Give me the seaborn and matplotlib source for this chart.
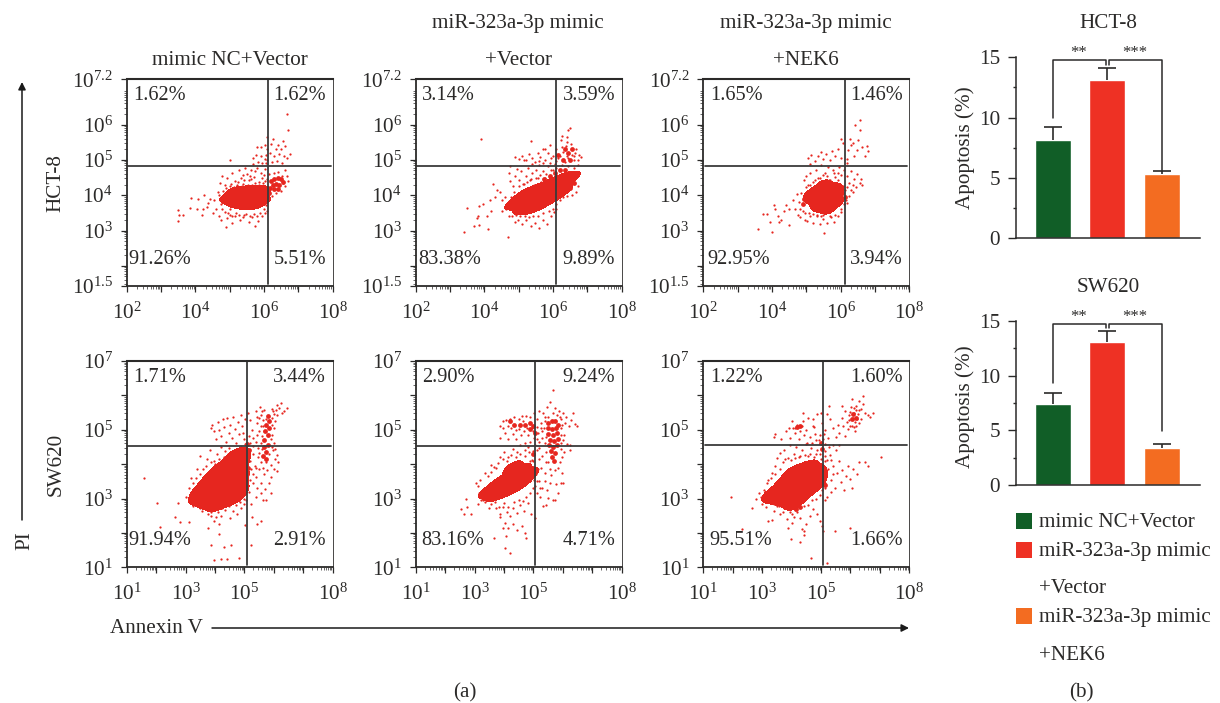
import numpy as np
import pandas as pd
import matplotlib
matplotlib.use('Agg')
import matplotlib.pyplot as plt
from matplotlib.colors import ListedColormap
from matplotlib.patches import FancyArrowPatch, Rectangle
from matplotlib.ticker import FixedLocator, FixedFormatter, NullFormatter
import seaborn as sns

# flow cytometry, log10(Annexin V), log10(PI)
# core = solid part of the cloud, mid = thick part, dots = single events
hct_nc_core = [(5.0,3.9),(5.2,3.8),(5.2,4.08),(5.45,3.75),(5.45,4.1),(5.7,3.75),(5.7,4.12),(5.9,3.88),(5.9,4.12)]
hct_nc_mid = [(6.2,4.4),(6.3,4.45),(6.4,4.5),(6.5,4.45),(6.25,4.28),(6.35,4.32),(6.45,4.3),(6.55,4.38),(6.18,4.2),(6.3,4.18),(6.42,4.18),(6.15,4.05),(6.05,3.95)]
hct_nc_dots = [(3.5,3.58),(3.5,3.27),(3.63,3.44),(3.53,3.44),(3.87,3.91),(3.84,3.65),(4.25,4.0),(4.09,3.9),(4.04,3.6),(4.18,3.44),
    (4.23,3.61),(4.33,3.68),(4.38,3.78),(4.52,3.5),(4.44,3.9),(4.6,3.62),(4.55,3.85),(4.68,3.42),(4.75,3.3),(4.88,3.1),(4.92,3.35),
    (5.06,3.2),(5.15,3.42),(5.3,3.3),(5.42,3.45),(5.55,3.25),(5.66,3.38),(5.75,3.12),(5.82,3.28),(5.95,3.42),(6.02,3.5),(5.0,3.45),
    (4.65,4.1),(4.72,4.35),(4.78,4.55),(4.85,4.3),(4.93,4.5),(5.0,4.25),(5.08,4.62),(5.15,4.4),(5.22,4.28),(5.28,4.72),(5.33,4.5),
    (5.38,4.33),(5.45,4.78),(5.5,4.6),(5.55,4.42),(5.62,4.7),(5.66,4.3),(5.72,4.52),(5.8,4.78),(5.85,4.38),(5.92,4.62),(5.98,4.35),
    (6.04,4.75),(5.02,5.0),(6.66,6.29),(6.71,5.85),(6.08,5.64),(6.27,5.58),(6.56,5.53),(6.42,5.42),(5.79,5.36),(5.9,5.35),(6.02,5.42),
    (6.08,5.3),(6.2,5.45),(6.35,5.3),(6.5,5.32),(6.62,5.4),(6.76,5.16),(6.68,5.05),(6.58,5.12),(6.45,5.18),(6.3,5.1),(6.18,5.2),
    (6.05,5.15),(5.92,5.1),(5.78,5.15),(5.68,5.05),(5.82,4.95),(5.95,4.9),(6.1,5.0),(6.22,4.95),(6.38,4.98),(6.52,4.9),(5.68,4.88),
    (6.6,4.7),(6.68,4.55),(6.7,4.4),(6.62,4.25),(6.5,4.12),(6.35,4.05),(6.22,3.98),(6.12,3.85),(6.15,4.6),(6.28,4.62),(6.42,4.66),
    (6.52,4.55),(6.15,4.12),(6.55,4.35),(6.05,3.72),(6.1,4.45),(4.75,3.75),(4.68,4.0),
    (4.72,3.85),(4.78,3.62),(4.8,4.12),(4.85,3.52),(4.9,4.2),(4.95,3.5),(5.05,4.32),(5.08,3.4),(5.12,4.22),(5.18,3.5),(5.25,4.38),(5.28,3.45),
    (5.35,4.25),(5.38,3.38),(5.42,4.42),(5.48,3.48),(5.52,4.28),(5.6,3.42),(5.62,4.45),(5.7,3.48),(5.75,4.35),(5.8,3.4),(5.85,4.28),(5.88,3.5),
    (5.95,4.22),(6.0,3.62),(6.02,4.4),(6.05,4.2),(5.0,3.6),(6.1,3.55),(5.6,4.55),(5.75,4.68),(5.95,4.5),(6.0,4.58),(5.4,4.58),(6.02,5.02),(6.05,4.92)]

hct_mi_core = [(4.95,3.8),(5.2,3.68),(5.45,3.68),(5.7,3.8),(5.2,4.02),(5.45,4.1),(5.7,4.18),(5.95,3.95),(5.95,4.3),(6.2,4.1),(6.2,4.42),(6.42,4.45)]
hct_mi_mid = [(6.55,4.55),(6.35,4.7),(6.2,4.72),(6.05,4.62),(5.9,4.55),(5.75,4.45),(6.6,4.35),(6.5,4.2),(6.35,4.15),(6.45,5.2),(6.3,5.0),(6.5,5.0),(6.15,5.15),(6.35,5.3),(6.55,5.3),(4.75,3.8),(4.8,3.65)]
hct_mi_dots = [(3.5,3.65),(3.4,2.95),(3.8,3.4),(3.84,3.15),(3.85,3.7),(3.95,3.75),(3.7,3.12),(3.78,3.35),(4.12,3.05),(4.07,3.42),
    (4.15,3.85),(4.2,3.55),(4.3,3.95),(4.38,4.15),(4.25,4.32),(4.45,4.1),(4.5,3.85),(4.52,3.55),(4.62,3.6),(4.7,2.82),(4.6,3.95),
    (4.8,3.4),(4.88,3.25),(4.72,3.42),(4.98,3.3),(5.1,3.18),(5.22,3.3),(5.35,3.12),(5.47,3.22),(5.58,3.08),(5.7,3.3),(5.82,3.18),
    (5.93,3.4),(6.02,3.52),(6.1,3.62),(3.9,5.58),(4.75,4.4),(4.72,4.62),(4.75,4.82),(4.82,4.25),(4.88,4.55),(4.95,4.75),(5.02,4.42),
    (5.08,4.68),(5.15,4.32),(5.2,4.55),(5.28,4.78),(5.33,4.42),(5.38,4.62),(5.45,4.3),(5.5,4.72),(5.55,4.5),(5.6,4.85),(5.65,4.38),
    (5.72,4.68),(5.78,4.48),(5.85,4.82),(5.92,4.42),(6.0,4.72),(6.05,4.88),(6.25,4.85),(6.45,4.82),(6.6,4.78),(6.72,4.85),(6.72,4.25),
    (6.68,4.1),(6.55,4.0),(6.4,3.98),(4.9,5.08),(5.0,5.02),(5.1,5.12),(5.2,5.0),(5.3,5.18),(5.38,5.05),(5.48,4.95),(5.55,5.2),(5.62,5.08),
    (5.7,5.3),(5.78,5.0),(5.85,5.2),(5.92,5.42),(6.0,5.12),(6.08,5.3),(6.15,5.05),(6.22,5.55),(6.3,5.22),(6.38,5.4),(6.45,5.05),(6.52,5.45),
    (6.6,5.12),(6.68,5.32),(6.75,5.15),(6.82,5.08),(6.72,5.0),(6.42,5.65),(6.25,5.68),(5.78,5.32),(5.35,5.52),(6.43,5.85),(6.48,5.9),(5.58,4.98),
    (4.78,3.95),(4.85,4.1),(4.92,3.45),(5.0,4.25),(5.05,3.42),(5.12,4.32),(5.18,3.4),(5.25,4.38),(5.3,3.38),(5.35,4.45),(5.42,3.4),(5.5,4.48),
    (5.55,3.42),(5.62,4.58),(5.7,3.5),(5.8,4.6),(5.88,3.55),(5.95,4.7),(6.0,3.62),(6.1,4.78),(6.1,3.75),(6.2,3.85),(6.3,3.95),(6.35,4.95),
    (5.15,5.0),(5.4,4.88),(5.7,4.9),(5.9,4.9),(6.1,4.98),(6.2,5.1),(6.4,5.1),(6.6,5.0),(5.95,5.05),(6.25,5.35),(6.4,5.5),(6.55,5.15),(6.65,5.2)]

hct_ne_core = [(5.15,3.95),(5.35,3.72),(5.35,4.08),(5.6,3.66),(5.6,4.02),(5.85,3.85),(5.85,4.15),(5.55,4.24)]
hct_ne_mid = [(6.05,4.05),(6.12,3.95),(4.92,3.9),(4.9,3.75),(5.95,4.3)]
hct_ne_dots = [(3.6,3.05),(3.75,3.47),(3.85,3.47),(4.0,2.95),(3.95,3.25),(4.05,3.72),(4.1,3.62),(4.18,3.4),(4.2,3.25),(4.27,3.3),
    (4.35,3.55),(4.42,3.72),(4.5,3.62),(4.5,3.15),(4.62,3.85),(4.68,3.6),(4.72,4.02),(4.75,3.45),(4.82,3.38),(4.9,3.55),(4.95,3.3),
    (5.02,3.28),(5.1,3.4),(5.2,3.22),(5.3,3.45),(5.4,3.18),(5.5,3.32),(5.52,2.92),(5.6,3.2),(5.72,3.38),(5.8,3.25),(5.92,3.42),(6.0,3.52),
    (4.92,4.42),(5.0,4.55),(5.05,4.3),(5.12,4.62),(5.2,4.38),(5.28,4.72),(5.35,4.48),(5.42,4.85),(5.5,4.35),(5.55,4.62),(5.62,4.8),
    (5.7,4.42),(5.78,4.7),(5.85,4.52),(5.95,4.8),(6.02,4.58),(6.1,4.72),(6.2,4.55),(6.3,4.68),(6.38,4.45),(6.48,4.6),(6.55,4.35),
    (6.62,4.28),(6.45,4.22),(6.35,4.08),(6.25,3.98),(6.15,3.85),(6.58,4.45),(5.05,5.05),(5.15,5.15),(5.25,4.98),(5.35,5.1),(5.42,5.22),
    (5.5,5.02),(5.58,5.18),(5.68,5.0),(5.75,5.25),(5.85,5.1),(5.92,5.32),(6.0,5.05),(6.08,5.48),(6.18,5.02),(6.22,5.28),(6.3,5.42),
    (6.38,5.12),(6.48,5.28),(6.52,5.55),(6.62,5.35),(6.7,5.1),(6.8,5.25),(6.78,5.38),(6.42,5.98),(6.55,5.85),(6.55,6.12),(6.28,5.6),
    (6.02,5.58),(6.35,5.48),(5.12,4.88),(6.18,4.9),
    (4.78,3.82),(4.82,3.6),(4.85,4.05),(4.95,3.5),(5.0,4.22),(5.08,3.5),(5.12,4.3),(5.2,3.48),(5.25,4.42),(5.32,3.42),(5.4,4.5),(5.42,3.4),(5.5,3.45),
    (5.65,4.42),(5.7,3.42),(5.75,4.32),(5.85,3.45),(5.92,4.42),(5.98,4.22),(6.02,3.62),(6.08,4.25),(6.1,3.75),(6.12,4.15),(6.2,4.22),(6.25,4.35),(6.3,4.15),
    (6.2,3.78),(6.35,4.3),(5.6,4.55),(5.82,4.62),(5.48,4.58),(5.92,4.62)]

sw_nc_core = [(3.4,3.1),(3.7,3.0),(4.0,2.9),(4.3,3.0),(4.6,3.1),(4.85,3.2),(3.7,3.4),(4.0,3.3),(4.3,3.4),(4.6,3.5),(4.85,3.6),(4.0,3.7),(4.3,3.8),(4.6,3.9),(4.85,4.0),(4.85,4.2),(4.55,4.12)]
sw_nc_mid = [(5.8,5.4),(5.85,5.25),(5.75,5.15),(5.85,5.05),(5.7,4.95),(5.8,4.85),(5.68,4.7),(5.8,4.55),(5.65,4.5),(5.75,4.35),(5.62,4.25),(5.72,4.15),(5.1,3.7),(5.12,3.9),(5.15,4.4),(5.1,4.6)]
sw_nc_dots = [(1.59,3.59),(2.02,2.86),(2.13,2.18),(2.65,2.45),(2.82,2.33),(3.1,2.33),(2.75,2.86),(3.03,3.05),(3.97,1.2),(4.2,1.23),(4.4,1.23),
    (4.83,1.27),(3.85,1.65),(4.31,1.6),(4.54,1.65),(5.21,1.65),(3.77,2.14),(4.15,1.97),(5.02,2.23),(5.42,2.26),(5.56,2.36),(5.25,2.45),
    (3.1,3.0),(3.25,2.78),(3.5,2.72),(3.75,2.55),(3.95,2.35),(4.05,2.45),(4.2,2.5),(4.35,2.68),(4.5,2.42),(4.6,2.65),(4.75,2.55),(4.9,2.72),
    (5.0,2.85),(4.15,2.25),(3.88,2.62),(3.2,3.6),(3.4,3.85),(3.5,4.25),(3.72,4.15),(3.82,4.4),(3.95,4.1),(4.08,4.3),(4.2,4.5),(4.35,4.38),
    (4.48,4.48),(4.7,4.42),(4.9,4.5),
    (3.85,5.05),(3.9,5.15),(3.98,4.95),(4.02,4.72),(4.1,5.22),(4.15,5.0),(4.22,4.82),(4.28,5.3),(4.32,5.08),(4.38,4.65),(4.42,5.35),(4.48,4.9),
    (4.52,5.15),(4.58,4.75),(4.62,5.38),(4.68,5.02),(4.72,4.62),(4.78,5.22),(4.82,4.88),(4.88,5.42),(4.92,5.1),(4.98,4.72),(5.02,5.3),(5.03,4.6),(4.95,4.9),
    (5.12,5.5),(5.2,5.28),(5.25,5.0),(5.3,4.75),(5.38,5.55),(5.42,5.2),(5.48,4.95),(5.52,5.65),(5.58,5.42),(5.62,5.1),(5.68,5.58),(5.72,5.3),
    (5.95,5.6),(6.0,5.45),(6.05,5.25),(6.12,5.42),(6.18,5.62),(6.25,5.78),(6.35,5.55),(6.44,5.62),(6.28,5.5),(6.1,5.72),(5.95,4.85),(5.65,4.95),
    (5.4,4.65),(5.15,4.82),(5.5,5.35),(5.95,5.15),
    (5.12,4.35),(5.18,4.1),(5.22,3.85),(5.3,4.3),(5.35,3.95),(5.4,3.62),(5.45,4.2),(5.5,3.85),(5.55,3.45),(5.6,4.45),(5.65,3.7),(5.72,4.05),
    (5.78,3.82),(5.85,4.3),(5.9,3.98),(5.98,4.4),(6.05,4.15),(6.12,4.28),(6.15,4.05),(6.02,3.85),(5.92,3.62),(5.82,3.45),(5.7,3.28),(5.55,3.15),
    (5.42,3.3),(5.28,3.45),(5.15,3.2),(5.38,3.05),(5.05,2.95),(5.75,2.95),(5.92,3.15),(5.22,2.85),(5.62,2.95),(5.45,4.48),(6.1,3.8),
    (3.1,3.3),(3.25,3.45),(3.35,3.6),(3.5,3.7),(3.6,3.85),(3.7,3.95),(3.85,4.05),(4.0,4.0),(4.15,4.15),(4.3,4.22),(4.45,4.3),(4.62,4.35),(4.8,4.38),
    (3.3,2.85),(3.55,2.65),(3.65,2.8),(3.85,2.5),(4.1,2.62),(4.25,2.72),(4.48,2.78),(4.7,2.82),(4.85,2.9),(4.98,3.0),(5.05,3.2),(5.02,3.45),
    (5.2,3.55),(5.3,3.7),(5.4,3.9),(5.55,4.05),(5.62,3.9),(5.48,4.32),(5.3,4.52),(5.2,4.62),(5.55,4.62),(5.42,4.85),(5.6,4.82),(5.55,5.12),(5.62,5.28),
    (5.95,5.35),(6.02,5.05),(5.92,4.72),(6.02,4.62),(5.95,4.5),(6.05,4.45),(5.98,5.55),(6.08,5.58),(5.6,5.55),(5.42,5.38)]

sw_mi_core = [(3.45,3.2),(3.7,3.12),(3.95,3.18),(4.2,3.28),(4.45,3.38),(3.8,3.45),(4.1,3.55),(4.4,3.65),(4.65,3.5),(4.3,3.9),(4.6,3.82),(4.85,3.7)]
sw_mi_mid = [(5.5,5.2),(5.62,5.25),(5.75,5.25),(5.85,5.15),(5.5,5.05),(5.62,5.02),(5.78,5.05),(5.5,4.88),(5.65,4.85),(5.8,4.9),(5.55,4.7),(5.7,4.68),(5.82,4.72),
    (5.52,4.55),(5.68,4.5),(5.8,4.55),(5.6,4.38),(5.72,4.32),(5.62,4.2),(5.7,4.1),(4.2,5.25),(4.35,5.15),(4.55,5.15),(4.72,5.15),(4.88,5.2),(5.0,5.1),(4.9,5.02),(5.05,4.9),
    (4.98,3.9),(5.0,4.3)]
sw_mi_dots = [(2.55,2.7),(2.65,2.55),(2.75,2.75),(2.88,2.55),(2.7,3.0),(3.05,3.45),(3.15,3.15),(3.22,2.95),(3.1,2.85),(3.35,2.9),(3.55,2.85),
    (3.72,2.72),(3.88,2.55),(3.95,2.75),(4.1,2.62),(4.22,2.48),(4.3,2.72),(4.45,2.58),(4.55,2.8),(4.68,2.65),(4.8,2.88),(4.92,2.55),(5.05,2.42),
    (3.85,2.45),(4.05,2.28),(4.15,2.15),(4.3,2.25),(4.45,2.08),(4.6,2.2),(4.7,2.0),(3.95,2.15),(3.67,1.85),(4.08,1.9),(4.05,1.55),(4.2,1.42),(4.75,1.85),
    (3.35,3.75),(3.55,3.98),(3.72,3.88),(3.85,4.2),(4.0,4.35),(4.15,4.22),(4.3,4.45),(4.45,4.35),(4.55,4.55),(4.7,4.25),(4.82,4.5),(4.95,4.12),(5.0,4.38),(4.88,4.1),
    (3.85,5.1),(3.88,4.75),(3.95,5.25),(4.02,4.9),(4.08,5.28),(4.15,4.72),(4.22,5.32),(4.3,4.88),(4.35,5.38),(4.42,4.72),(4.5,5.32),(4.58,4.85),(4.62,5.4),
    (4.68,4.95),(4.75,5.4),(4.82,4.85),(4.9,5.38),(4.95,5.05),(5.02,5.5),(5.03,4.75),(4.9,4.65),(4.7,4.62),
    (5.12,5.3),(5.18,5.55),(5.25,5.2),(5.32,5.5),(5.38,5.25),(5.45,5.65),(5.5,5.38),(5.58,5.82),(5.65,5.48),(5.68,6.15),(5.72,5.62),(5.8,5.42),(5.88,5.55),
    (5.95,5.3),(6.02,5.5),(6.08,5.2),(6.12,5.38),(6.2,5.12),(6.28,5.28),(6.35,5.48),(6.4,5.18),(6.48,5.1),(5.95,5.05),(6.05,4.85),(5.95,4.62),(6.15,4.6),
    (6.25,4.4),(6.05,4.35),(5.98,4.2),(5.92,4.05),(5.85,3.9),(5.72,3.82),(5.6,3.68),(6.25,4.55),(5.15,4.9),(5.2,4.65),(5.28,4.95),(5.4,4.62),
    (5.12,4.4),(5.18,4.15),(5.25,3.9),(5.3,4.25),(5.38,3.75),(5.42,4.05),(5.1,3.7),(5.2,3.5),(5.28,3.3),(5.38,3.5),(5.45,3.25),(5.12,3.15),(5.22,3.05),
    (5.05,3.35),(5.55,3.45),(5.78,3.42),(5.95,3.45),(6.02,3.45),(5.85,3.15),(5.72,2.95),(5.65,2.95),(5.42,2.82),(5.32,2.78),(5.48,3.02),
    (3.1,3.35),(3.2,3.55),(3.35,3.3),(3.45,3.65),(3.55,3.78),(3.65,3.92),(3.8,4.02),(3.95,4.15),(4.1,4.08),(4.25,4.28),(4.4,4.2),(4.55,4.3),(4.7,4.42),(4.85,4.35),(5.0,4.1),
    (3.3,2.95),(3.5,2.72),(3.68,2.9),(3.82,2.75),(4.0,2.88),(4.15,2.75),(4.35,2.9),(4.5,2.95),(4.65,2.92),(4.75,3.05),(4.9,3.15),(4.98,3.3),(5.02,3.55),
    (5.12,3.5),(5.15,3.85),(5.22,3.3),(5.05,4.55),(5.12,4.72),(5.2,4.48),(5.3,4.75),(5.35,5.05),(5.25,5.05),(5.12,5.08),(5.42,4.8),(5.4,5.38),(5.98,5.15),(5.92,5.38),(5.95,4.85),
    (4.25,5.05),(4.4,4.98),(4.52,5.02),(4.65,5.25),(4.78,5.05),(4.12,5.12),(3.98,5.05),(5.0,4.95),(5.95,4.45),(6.0,4.7),(5.5,4.05),(5.55,3.85),(5.42,4.35),(5.98,3.75)]

sw_ne_core = [(3.3,3.1),(3.6,3.05),(3.9,3.0),(4.2,3.05),(4.5,3.2),(4.8,3.4),(3.7,3.4),(4.0,3.4),(4.3,3.5),(4.6,3.6),(4.85,3.75),(4.0,3.72),(4.3,3.8),(4.6,3.9),(4.85,3.55),(4.1,2.88)]
sw_ne_mid = [(5.0,4.62),(5.02,4.45),(4.2,5.08),(4.3,5.12),(4.95,3.95),(5.02,3.8),(4.3,2.75),(4.15,2.7),(5.1,3.6),(5.15,3.4),(6.1,5.45),(6.05,5.3),(6.2,5.35)]
sw_ne_dots = [(1.93,3.05),(2.3,2.12),(2.65,2.72),(2.78,3.0),(2.88,3.15),(3.0,2.85),(3.12,2.75),(3.2,2.35),(3.32,2.38),(3.4,2.65),(3.5,2.78),
    (3.62,2.55),(3.75,2.72),(3.85,2.4),(3.95,2.6),(4.08,2.45),(4.18,2.6),(4.28,2.42),(4.35,2.1),(4.42,2.05),(4.5,2.25),(4.62,2.48),(4.72,2.7),(4.85,2.55),
    (4.95,2.35),(5.03,2.2),(5.22,1.12),(3.97,1.82),(4.3,1.75),(4.65,1.28),(5.08,2.05),(5.48,2.05),(6.0,2.15),(4.42,1.95),(3.88,2.15),(4.02,2.28),
    (3.2,3.55),(3.35,3.75),(3.42,3.95),(3.6,4.32),(3.72,4.05),(3.52,4.18),(3.75,4.4),(3.88,4.18),(3.95,4.55),(4.08,4.3),(4.15,4.5),(4.25,4.2),(4.35,4.42),
    (4.48,4.6),(4.55,4.25),(4.65,4.48),(4.75,4.2),(4.85,4.42),(4.95,4.3),(5.0,4.15),(3.4,4.8),
    (3.45,4.88),(3.65,4.72),(3.8,4.95),(3.9,5.05),(3.95,4.75),(4.02,5.25),(4.1,4.9),(4.18,5.15),(4.25,4.72),(4.35,5.1),(4.42,4.85),(4.5,5.0),(4.55,5.35),
    (4.62,4.78),(4.72,5.1),(4.8,4.88),(4.85,5.45),(4.72,5.3),(4.52,4.62),(4.92,4.7),(5.0,5.5),(5.02,5.2),(4.4,5.5),(4.75,5.08),
    (5.15,5.0),(5.2,5.45),(5.25,4.75),(5.3,5.3),(5.42,5.05),(5.5,4.8),(5.58,5.15),(5.62,4.92),(5.7,5.35),(5.75,5.1),(5.82,5.55),(5.88,5.22),(5.95,5.42),(6.0,5.12),
    (6.02,5.65),(6.08,5.35),(6.12,5.5),(6.15,5.22),(6.2,5.7),(6.25,5.45),(6.3,5.58),(6.35,5.32),(6.42,5.75),(6.5,5.5),(6.58,5.42),(6.68,5.38),(6.78,5.5),
    (6.42,5.98),(6.28,5.85),(6.05,5.9),(5.9,5.02),(6.15,4.95),(5.8,4.82),(5.28,5.68),(5.72,5.68),(6.12,5.08),(6.22,5.3),(6.35,5.6),
    (5.15,4.38),(5.2,4.12),(5.25,3.85),(5.3,4.28),(5.35,3.55),(5.42,3.95),(5.48,3.3),(5.55,3.75),(5.62,4.1),(5.68,3.48),(5.72,3.82),(5.78,3.25),(5.85,3.65),
    (5.92,3.95),(5.98,3.58),(6.05,3.3),(6.1,3.85),(6.22,3.7),(6.5,4.05),(6.58,3.95),(6.28,4.05),(5.12,3.65),(5.15,3.3),(5.22,3.05),(5.35,3.2),(5.12,2.95),
    (5.5,4.42),(5.62,4.55),(5.42,4.55),(7.05,4.2),
    (2.95,3.05),(3.05,3.25),(3.15,3.45),(3.3,3.6),(3.45,3.7),(3.6,3.85),(3.78,4.15),(3.98,4.12),(4.12,4.18),(4.3,4.25),(4.45,4.28),(4.62,4.3),(4.82,4.3),
    (3.2,2.95),(3.4,2.85),(3.58,2.78),(3.72,2.62),(3.88,2.72),(4.0,2.55),(4.1,2.68),(4.42,2.78),(4.55,2.82),(4.68,2.95),(4.82,3.0),(4.95,3.1),(5.05,3.25),
    (5.12,3.45),(5.08,3.85),(5.15,4.1),(5.12,4.25),(5.08,4.72),(5.1,4.88),(4.95,4.85),(4.82,4.7),(4.68,4.62),(5.15,4.6),(5.28,4.5),(5.35,4.12),(5.4,3.72),
    (5.95,5.28),(6.05,5.1),(6.12,5.62),(6.2,5.12),(6.28,5.2),(6.18,5.58),(5.98,5.52),(4.05,5.05),(4.12,5.05),(4.3,4.95),(4.38,5.25)]

# percentages: upper left, upper right, lower left, lower right
hct_pct = [['1.62%','1.62%','91.26%','5.51%'], ['3.14%','3.59%','83.38%','9.89%'], ['1.65%','1.46%','92.95%','3.94%']]
sw_pct = [['1.71%','3.44%','91.94%','2.91%'], ['2.90%','9.24%','83.16%','4.71%'], ['1.22%','1.60%','95.51%','1.66%']]

groups = ['mimic NC+Vector', 'miR-323a-3p mimic +Vector', 'miR-323a-3p mimic +NEK6']
bar_colors = ['#115e27', '#ee3124', '#f36c21']
hct_means = [8.15, 13.1, 5.3]
hct_errs = [1.05, 1.0, 0.25]
sw_means = [7.41, 13.08, 3.38]
sw_errs = [1.0, 0.97, 0.37]

sns.set_theme(style='ticks')
ink = '#2b2a29'
red = '#e6261f'
plt.rcParams['font.family'] = ['Liberation Serif', 'DejaVu Serif']
plt.rcParams['mathtext.fontset'] = 'custom'
plt.rcParams['mathtext.rm'] = 'Liberation Serif'
plt.rcParams['mathtext.it'] = 'Liberation Serif'
plt.rcParams['mathtext.default'] = 'regular'
plt.rcParams['text.color'] = ink
plt.rcParams['axes.labelcolor'] = ink
plt.rcParams['xtick.color'] = ink
plt.rcParams['ytick.color'] = ink
FS = 15.2

W, H = 1220, 703
fig = plt.figure(figsize=(W / 100, H / 100), dpi=100)


def px_axes(x0, y0, x1, y1):
    return fig.add_axes([x0 / W, 1 - y1 / H, (x1 - x0) / W, (y1 - y0) / H])


def label(x, y, s, **kw):
    kw.setdefault('ha', 'center')
    kw.setdefault('va', 'center')
    kw.setdefault('fontsize', FS)
    if kw.get('rotation'):
        x = x + 3
    else:
        y = y + 2.5
    fig.text(x / W, 1 - y / H, s, **kw)


def flow_panel(box, core, mid, dots, pct, gate, xlims, ylims, xt, xl, yt, yl, ll_pad, bw):
    ax = px_axes(*box)
    ax.set_xscale('log')
    ax.set_yscale('log')
    arr = np.array(core)
    sns.kdeplot(x=10 ** arr[:, 0], y=10 ** arr[:, 1], fill=True, levels=[0.05, 1], bw_adjust=bw,
                cmap=ListedColormap([red]), ax=ax)
    for pts, size in [(dots, 2.6), (mid, 12)]:
        arr = np.array(pts)
        sns.scatterplot(x=10 ** arr[:, 0], y=10 ** arr[:, 1], s=size, color=red, linewidth=0, ax=ax, legend=False)
    ax.set_xlim(10.0 ** xlims[0], 10.0 ** xlims[1])
    ax.set_ylim(10.0 ** ylims[0], 10.0 ** ylims[1])
    ax.xaxis.set_major_locator(FixedLocator([10.0 ** v for v in xt]))
    ax.xaxis.set_major_formatter(FixedFormatter(xl))
    ax.yaxis.set_major_locator(FixedLocator([10.0 ** v for v in yt]))
    ax.yaxis.set_major_formatter(FixedFormatter(yl))
    decades = range(0, 9)
    ax.xaxis.set_minor_locator(FixedLocator([m * 10.0 ** d for d in decades for m in range(2, 10)]))
    ax.yaxis.set_minor_locator(FixedLocator([m * 10.0 ** d for d in decades for m in range(2, 10)]))
    ax.xaxis.set_minor_formatter(NullFormatter())
    ax.yaxis.set_minor_formatter(NullFormatter())
    ax.tick_params(which='major', length=4, width=0.9, labelsize=FS)
    ax.tick_params(axis='x', which='major', pad=8)
    ax.tick_params(axis='y', which='major', pad=6)
    ax.tick_params(which='minor', length=2.2, width=0.5)
    for side in ax.spines:
        ax.spines[side].set_color(ink)
    ax.spines['top'].set_linewidth(1.5)
    ax.spines['left'].set_linewidth(1.3)
    ax.spines['bottom'].set_linewidth(1.3)
    ax.spines['right'].set_linewidth(0.6)
    ax.axvline(10.0 ** gate[0], ymin=0.012, ymax=1, color='#3a3a3a', lw=1.3)
    ax.axhline(10.0 ** gate[1], xmin=0.006, xmax=0.99, color='#3a3a3a', lw=1.3)
    top = 0.08
    bot = 0.13
    ax.text(0.032, 1 - top, pct[0], transform=ax.transAxes, ha='left', va='center', fontsize=FS - 0.5)
    ax.text(0.968, 1 - top, pct[1], transform=ax.transAxes, ha='right', va='center', fontsize=FS - 0.5)
    ax.text(ll_pad, bot, pct[2], transform=ax.transAxes, ha='left', va='center', fontsize=FS - 0.5)
    ax.text(0.968, bot, pct[3], transform=ax.transAxes, ha='right', va='center', fontsize=FS - 0.5)
    ax.set_xlabel('')
    ax.set_ylabel('')
    return ax


top_x = [2, 3, 4, 5, 6, 7, 8]
top_xl = ['$10^{2}$', '', '$10^{4}$', '', '$10^{6}$', '', '$10^{8}$']
top_y = [1.43, 2, 3, 4, 5, 6, 7.28]
top_yl = ['$10^{1.5}$', '', '$10^{3}$', '$10^{4}$', '$10^{5}$', '$10^{6}$', '$10^{7.2}$']
bot_x = [1, 2, 3, 4, 5, 6, 7, 8]
bot_xl = ['$10^{1}$', '', '$10^{3}$', '', '$10^{5}$', '', '', '$10^{8}$']
bot_y = [1, 2, 3, 4, 5, 6, 7]
bot_yl = ['$10^{1}$', '', '$10^{3}$', '', '$10^{5}$', '', '$10^{7}$']

col_x = [(126.7, 332.7), (415.7, 621.7), (703.3, 909.3)]
top_sets = [(hct_nc_core, hct_nc_mid, hct_nc_dots), (hct_mi_core, hct_mi_mid, hct_mi_dots), (hct_ne_core, hct_ne_mid, hct_ne_dots)]
bot_sets = [(sw_nc_core, sw_nc_mid, sw_nc_dots), (sw_mi_core, sw_mi_mid, sw_mi_dots), (sw_ne_core, sw_ne_mid, sw_ne_dots)]
top_gates = [(6.12, 4.83), (6.09, 4.83), (6.13, 4.83)]
bot_gates = [(5.08, 4.53), (5.07, 4.53), (5.08, 4.55)]
top_pads = [0.008, 0.01, 0.021]
bot_pads = [0.008, 0.026, 0.029]

for i in range(3):
    x0, x1 = col_x[i]
    c, m, d = top_sets[i]
    flow_panel((x0, 79.3, x1, 286), c, m, d, hct_pct[i], top_gates[i], (2, 8), (1.43, 7.28),
               top_x, top_xl, top_y, top_yl, top_pads[i], 0.72)
    c, m, d = bot_sets[i]
    flow_panel((x0, 361, x1, 567.3), c, m, d, sw_pct[i], bot_gates[i], (1, 8), (1, 7),
               bot_x, bot_xl, bot_y, bot_yl, bot_pads[i], 0.68)


def bar_panel(box, means, errs, bracket, left_leg, right_leg, mid_leg, star_y):
    ax = px_axes(*box)
    df = pd.DataFrame({'group': groups, 'value': means})
    sns.barplot(data=df, x='group', y='value', hue='group', palette=bar_colors, width=0.66,
                saturation=1, errorbar=None, legend=False, ax=ax)
    eb = ax.errorbar(range(3), means, yerr=[[0, 0, 0], errs], fmt='none', ecolor=ink, elinewidth=1.2,
                     capsize=6.5, capthick=1.2)
    eb[1][0].set_visible(False)
    ax.set_xlim(-0.68, 2.70)
    ax.set_ylim(0, 15)
    ax.set_yticks([0, 5, 10, 15])
    ax.set_yticks([2.5, 7.5, 12.5], minor=True)
    ax.set_xticks([])
    ax.set_xlabel('')
    ax.set_ylabel('')
    ax.tick_params(axis='y', which='major', length=5.5, width=1, labelsize=FS, pad=6)
    ax.tick_params(axis='y', which='minor', length=2.5, width=1)
    sns.despine(ax=ax)
    ax.spines['left'].set_color(ink)
    ax.spines['bottom'].set_color(ink)
    ax.spines['left'].set_linewidth(1.1)
    ax.spines['bottom'].set_linewidth(1.1)
    ax.plot([0, 0, 0.97, 0.97], [left_leg, bracket, bracket, mid_leg], color=ink, lw=1.1, clip_on=False)
    ax.plot([1.03, 1.03, 2, 2], [mid_leg, bracket, bracket, right_leg], color=ink, lw=1.1, clip_on=False)
    ax.text(0.47, star_y, '**', ha='center', va='center', fontsize=12, clip_on=False)
    ax.text(1.5, star_y, '***', ha='center', va='center', fontsize=12, clip_on=False)
    return ax


bar_panel((1016, 57.3, 1200, 238.3), hct_means, hct_errs, 14.8, 9.95, 5.58, 14.4, 15.35)
bar_panel((1016, 321, 1200, 485), sw_means, sw_errs, 14.76, 9.36, 4.97, 14.33, 15.4)

# text around the panels
label(230, 58, 'mimic NC+Vector')
label(518, 21, 'miR-323a-3p mimic')
label(518, 58, '+Vector')
label(806, 21, 'miR-323a-3p mimic')
label(806, 58, '+NEK6')
label(1108, 21, 'HCT-8')
label(1108, 285, 'SW620')
label(53, 183, 'HCT-8', rotation=90)
label(53, 464, 'SW620', rotation=90)
label(22, 541, 'PI', rotation=90)
label(110, 626, 'Annexin V', ha='left')
label(962, 148, 'Apoptosis (%)', rotation=90)
label(962, 407, 'Apoptosis (%)', rotation=90)
label(465, 690, '(a)')
label(1081, 690, '(b)')

# legend
for y0, col in zip([512.7, 541.7, 608], bar_colors):
    fig.add_artist(Rectangle((1016 / W, 1 - (y0 + 16) / H), 16 / W, 16 / H, transform=fig.transFigure,
                             facecolor=col, edgecolor='none'))
for y, s in zip([520, 549.3, 586, 615.3, 653.3],
                ['mimic NC+Vector', 'miR-323a-3p mimic', '+Vector', 'miR-323a-3p mimic', '+NEK6']):
    label(1039, y, s, ha='left')

# axis arrows
for a, b in [((22, 520), (22, 82)), ((212, 628), (909, 628))]:
    fig.add_artist(FancyArrowPatch((a[0] / W, 1 - a[1] / H), (b[0] / W, 1 - b[1] / H), transform=fig.transFigure,
                                   arrowstyle='-|>', mutation_scale=11, color='#1a1a1a', lw=1.1,
                                   shrinkA=0, shrinkB=0))

fig.savefig('out.png', dpi=100, facecolor='white')
